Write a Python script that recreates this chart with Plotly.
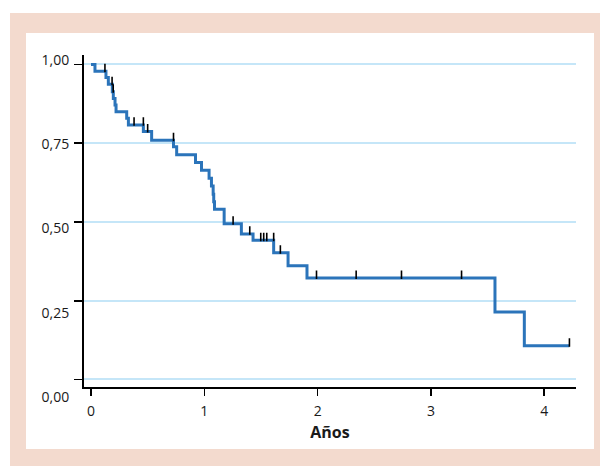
import plotly.graph_objects as go

# ---- data (Kaplan-Meier curve) ----
event_times = [0.035, 0.132, 0.153, 0.188, 0.197, 0.212, 0.221, 0.315, 0.330, 0.462,
               0.535, 0.728, 0.756, 0.922, 0.975, 1.042, 1.063, 1.078, 1.083, 1.090,
               1.175, 1.327, 1.430, 1.612, 1.739, 1.906, 3.565, 3.824]
survival = [0.978, 0.958, 0.937, 0.913, 0.892, 0.871, 0.850, 0.829, 0.808, 0.787,
            0.759, 0.739, 0.713, 0.689, 0.664, 0.639, 0.614, 0.588, 0.564, 0.540,
            0.494, 0.462, 0.442, 0.402, 0.361, 0.322, 0.214, 0.107]
censor_times = [0.123, 0.186, 0.196, 0.38, 0.462, 0.50, 0.728, 1.254, 1.401, 1.498,
                1.524, 1.551, 1.612, 1.671, 1.99, 2.34, 2.74, 3.27, 4.222]
end_time = 4.222

x_tickvals = [0, 1, 2, 3, 4]
x_ticktext = ["0", "1", "2", "3", "4"]
y_tickvals = [0, 0.25, 0.5, 0.75, 1.0]
y_ticktext = ["0,00", "0,25", "0,50", "0,75", "1,00"]
x_title = "Años"


def surv_before(t):
    s = 1.0
    for et, sv in zip(event_times, survival):
        if et < t:
            s = sv
    return s


step_x = [0] + event_times + [end_time]
step_y = [1.0] + survival + [survival[-1]]
censor_y = [surv_before(t) for t in censor_times]

LINE = "#2b74ba"
GRID = "#c5e6f8"
PEACH = "#f3dace"
FONT = "Open Sans"

fig = go.Figure()
fig.add_trace(go.Scatter(x=step_x, y=step_y, mode="lines", line_shape="hv",
                         line=dict(color=LINE, width=3), showlegend=False,
                         hoverinfo="skip"))
fig.add_trace(go.Scatter(x=censor_times, y=censor_y, mode="markers",
                         marker=dict(size=1, color="rgba(0,0,0,0)"),
                         error_y=dict(type="data", symmetric=False,
                                      array=[0.024] * len(censor_times),
                                      arrayminus=[0.003] * len(censor_times),
                                      thickness=1.6, width=0, color="black"),
                         showlegend=False, hoverinfo="skip"))
# dummy trace so the label-only axis is drawn
fig.add_trace(go.Scatter(x=[None], y=[None], yaxis="y2", showlegend=False,
                         hoverinfo="skip"))

# plot area geometry (px)
L, R, T, B = 84, 24, 55, 66
W, H = 600, 466
pw, ph = W - L - R, H - T - B


def px_x(p):
    return (p - L) / pw


def px_y(p):
    return (H - B - p) / ph


shapes = [
    dict(type="rect", xref="paper", yref="paper", layer="below",
         x0=px_x(10), x1=px_x(620), y0=px_y(480), y1=px_y(13),
         fillcolor=PEACH, line=dict(width=0)),
    dict(type="rect", xref="paper", yref="paper", layer="below",
         x0=px_x(26), x1=px_x(594), y0=px_y(449), y1=px_y(33),
         fillcolor="white", line=dict(width=0)),
]

fig.update_layout(
    width=W, height=H,
    margin=dict(l=L, r=R, t=T, b=B),
    paper_bgcolor="white",
    plot_bgcolor="rgba(0,0,0,0)",
    shapes=shapes,
    font=dict(family=FONT, size=14, color="#1a1a1a"),
    xaxis=dict(domain=[0, 1], anchor="y", range=[-0.0618, 4.28],
               tickvals=x_tickvals, ticktext=x_ticktext,
               showline=True, linecolor="black", linewidth=2,
               ticks="outside", ticklen=7, tickwidth=1.6, tickcolor="black",
               showgrid=False, zeroline=False, ticklabelstandoff=3,
               title=dict(text="<b>" + x_title + "</b>", standoff=8,
                          font=dict(family=FONT, size=16, color="#1a1a1a"))),
    yaxis=dict(domain=[px_y(386.7), 1], anchor="x", range=[-0.0229, 1.0298],
               tickvals=y_tickvals, showticklabels=False,
               showline=True, linecolor="black", linewidth=2,
               ticks="outside", ticklen=8, tickwidth=1.6, tickcolor="black",
               showgrid=True, gridcolor=GRID, gridwidth=2, zeroline=False),
    yaxis2=dict(domain=[0, 1], anchor="x", range=[-0.0089, 1.0148],
                tickvals=y_tickvals, ticktext=y_ticktext,
                showline=False, showgrid=False, zeroline=False,
                ticks="outside", ticklen=11, tickcolor="rgba(0,0,0,0)"),
)

fig.write_html("out.html",
               config={"displayModeBar": False, "staticPlot": True},
               post_script="document.body.style.margin='0';"
                           "document.body.style.overflow='hidden';")
